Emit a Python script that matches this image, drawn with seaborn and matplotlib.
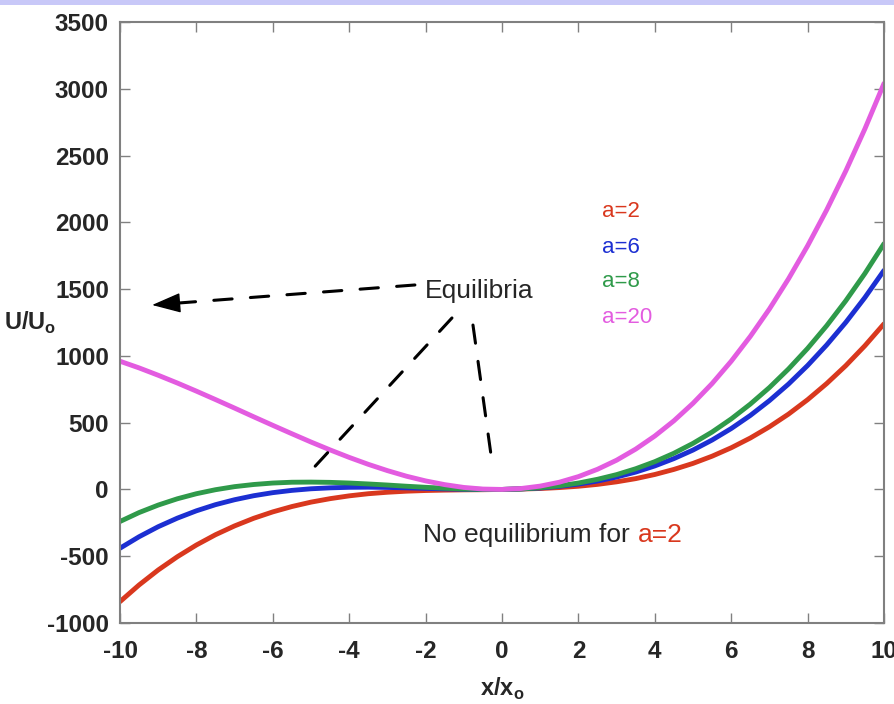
import matplotlib
matplotlib.use("Agg")
import matplotlib.pyplot as plt
from matplotlib.patches import Rectangle
import seaborn as sns
import pandas as pd

# values (step 0.5 in x/x0)
x_vals = [-10, -9.5, -9, -8.5, -8, -7.5, -7, -6.5, -6, -5.5, -5, -4.5, -4,
          -3.5, -3, -2.5, -2, -1.5, -1, -0.5, 0, 0.5, 1, 1.5, 2, 2.5, 3,
          3.5, 4, 4.5, 5, 5.5, 6, 6.5, 7, 7.5, 8, 8.5, 9, 9.5, 10]
u_a2 = [-840, -715, -603, -504, -416, -339, -273, -216, -168, -128, -95,
        -69, -48, -32, -21, -13, -8, -5, -3, -2, 0, 3, 7, 14, 24, 38, 57,
        81, 112, 150, 195, 249, 312, 385, 469, 564, 672, 793, 927, 1076, 1240]
u_a6 = [-440, -354, -279, -215, -160, -114, -77, -47, -24, -7, 5, 12, 16,
        17, 15, 12, 8, 4, 1, -1, 0, 4, 11, 23, 40, 63, 93, 130, 176, 231,
        295, 370, 456, 554, 665, 789, 928, 1082, 1251, 1437, 1640]
u_a8 = [-240, -173, -117, -70, -32, -2, 21, 37, 48, 54, 55, 53, 48, 41, 33,
        24, 16, 9, 3, 0, 0, 4, 13, 27, 48, 76, 111, 155, 208, 271, 345, 430,
        528, 639, 763, 902, 1056, 1226, 1413, 1617, 1840]
u_a20 = [960, 910, 855, 797, 736, 673, 609, 544, 480, 417, 355, 296, 240,
         188, 141, 99, 64, 36, 15, 3, 0, 7, 25, 54, 96, 151, 219, 302, 400,
         514, 645, 793, 960, 1146, 1351, 1577, 1824, 2093, 2385, 2700, 3040]

labels = ["a=2", "a=6", "a=8", "a=20"]
colors = ["#d9381e", "#1c2fd2", "#2f9a4a", "#e35ce0"]

xticks = [-10, -8, -6, -4, -2, 0, 2, 4, 6, 8, 10]
yticks = [-1000, -500, 0, 500, 1000, 1500, 2000, 2500, 3000, 3500]

frames = []
for lab, vals in zip(labels, [u_a2, u_a6, u_a8, u_a20]):
    frames.append(pd.DataFrame({"x": x_vals, "U": vals, "a": lab}))
data = pd.concat(frames, ignore_index=True)

sns.set_style("ticks")
plt.rcParams["font.family"] = ["Liberation Sans", "DejaVu Sans"]
plt.rcParams["mathtext.fontset"] = "custom"
plt.rcParams["mathtext.rm"] = "Liberation Sans"
plt.rcParams["mathtext.bf"] = "Liberation Sans:bold"

fig = plt.figure(figsize=(8.95, 7.04), dpi=100)
ax = fig.add_axes([120 / 895, 1 - 623 / 704, 764 / 895, 601 / 704])

sns.lineplot(data=data, x="x", y="U", hue="a", hue_order=labels,
             palette=colors, linewidth=3.5, legend=False, ax=ax)

ax.set_xlim(-10, 10)
ax.set_ylim(-1000, 3500)
ax.set_xticks(xticks)
ax.set_yticks(yticks)
ax.set_xticklabels([str(t) for t in xticks], fontweight="bold")
ax.set_yticklabels([str(t) for t in yticks], fontweight="bold")
ax.tick_params(direction="in", top=True, right=True, length=7, width=1,
               color="#808080", labelsize=17.5)
ax.tick_params(axis="x", pad=12)
ax.tick_params(axis="y", pad=8)
for sp in ax.spines.values():
    sp.set_color("#808080")
    sp.set_linewidth(1.5)

ax.set_xlabel(r"x/x$_\mathbf{o}$", fontsize=17, fontweight="bold")
ax.xaxis.set_label_coords(0.5, -0.088)
ax.set_ylabel(r"U/U$_\mathbf{o}$", fontsize=17, fontweight="bold",
              rotation=0, ha="left", va="center")
ax.yaxis.set_label_coords(-0.152, 0.5)

# curve labels
label_y = [0.676, 0.616, 0.559, 0.499]
for lab, col, yy in zip(labels, colors, label_y):
    ax.text(0.631, yy, lab, color=col, fontsize=16, va="baseline",
            transform=ax.transAxes)

# equilibria pointers
dash = (0, (6, 6))
ax.text(0.399, 0.541, "Equilibria", fontsize=19, va="baseline",
        transform=ax.transAxes)
ax.annotate("", xy=(-8.6, 1393), xytext=(-2.28, 1531),
            arrowprops=dict(arrowstyle="-", lw=2.2, linestyle=dash,
                            color="black", shrinkA=0, shrinkB=0))
ax.annotate("", xy=(-9.16, 1381), xytext=(-8.4, 1398),
            arrowprops=dict(arrowstyle="-|>,head_length=1.3,head_width=0.45",
                            mutation_scale=14, lw=1, color="black",
                            shrinkA=0, shrinkB=0))
ax.annotate("", xy=(-5.03, 131), xytext=(-1.31, 1284),
            arrowprops=dict(arrowstyle="-", lw=2.2, linestyle=dash,
                            color="black", shrinkA=0, shrinkB=0))
ax.annotate("", xy=(-0.24, 161), xytext=(-0.76, 1231),
            arrowprops=dict(arrowstyle="-", lw=2.2, linestyle=dash,
                            color="black", shrinkA=0, shrinkB=0))

t1 = ax.text(0.397, 0.135, "No equilibrium for ", fontsize=19,
             va="baseline", transform=ax.transAxes)
ax.annotate("a=2", xy=(1, 0), xycoords=t1, fontsize=19, color=colors[0],
            va="bottom", ha="left")

# lavender band along the top edge
fig.add_artist(Rectangle((0, 1 - 5 / 704), 1, 5 / 704,
                         transform=fig.transFigure, color="#c8c8f8", lw=0))

plt.savefig("out.png", dpi=100)
